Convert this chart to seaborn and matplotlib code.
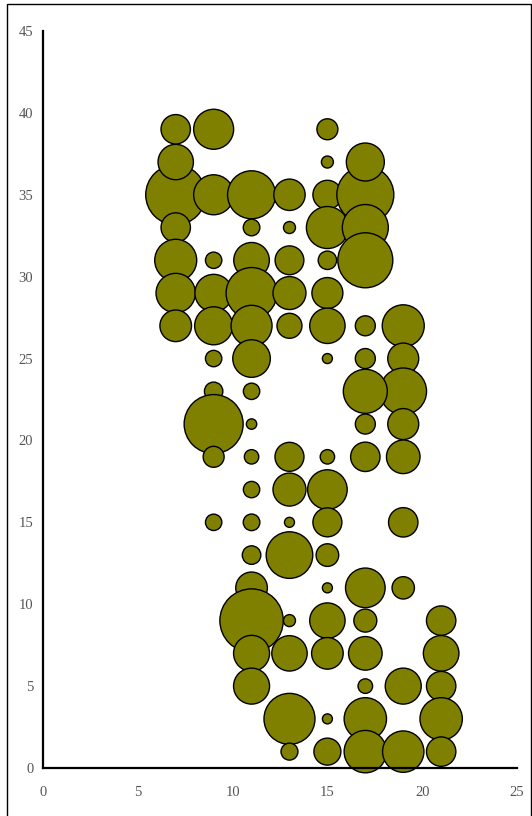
import numpy as np
import pandas as pd
import seaborn as sns
import matplotlib
matplotlib.use('Agg')
import matplotlib.pyplot as plt
from matplotlib.patches import Rectangle

# bubble data, listed row by row in drawing order
xs = [7, 9, 11, 13, 15, 17,
      7, 11, 13, 15, 17,
      7, 9, 11, 13, 15, 17,
      7, 9, 11, 13, 15,
      7, 9, 11, 13, 15, 17, 19,
      9, 11, 15, 17, 19,
      9, 11, 19, 17,
      9, 11, 17, 19,
      9, 11, 13, 15, 17, 19,
      11, 13, 15,
      9, 11, 13, 15, 19,
      11, 13, 15,
      11, 15, 17, 19,
      11, 13, 15, 17, 21,
      11, 13, 15, 17, 21,
      11, 17, 19, 21,
      13, 15, 17, 21,
      13, 15, 17, 19, 21,
      7, 15, 17,
      7, 9, 15]
ys = [35, 35, 35, 35, 35, 35,
      33, 33, 33, 33, 33,
      31, 31, 31, 31, 31, 31,
      29, 29, 29, 29, 29,
      27, 27, 27, 27, 27, 27, 27,
      25, 25, 25, 25, 25,
      23, 23, 23, 23,
      21, 21, 21, 21,
      19, 19, 19, 19, 19, 19,
      17, 17, 17,
      15, 15, 15, 15, 15,
      13, 13, 13,
      11, 11, 11, 11,
      9, 9, 9, 9, 9,
      7, 7, 7, 7, 7,
      5, 5, 5, 5,
      3, 3, 3, 3,
      1, 1, 1, 1, 1,
      37, 37, 37,
      39, 39, 39]
values = [900, 400, 576, 246, 210, 812,
          216, 69, 36, 441, 529,
          441, 67, 317, 207, 85, 756,
          388, 350, 650, 272, 240,
          250, 361, 420, 156, 313, 100, 441,
          67, 353, 25, 100, 240,
          85, 67, 543, 484,
          870, 27, 100, 240,
          110, 52, 210, 52, 216, 282,
          67, 272, 392,
          67, 69, 25, 210, 216,
          86, 543, 128,
          250, 25, 392, 125,
          1005, 36, 313, 132, 216,
          324, 313, 250, 282, 317,
          324, 53, 324, 216,
          650, 25, 449, 449,
          72, 182, 449, 428, 216,
          313, 36, 361,
          216, 400, 110]

x_ticks = [0, 5, 10, 15, 20, 25]
y_ticks = [0, 5, 10, 15, 20, 25, 30, 35, 40, 45]

df = pd.DataFrame({'x': xs, 'y': ys, 'value': values})

sns.set_style('white')
plt.rcParams['font.family'] = ['Liberation Serif', 'DejaVu Serif']

fig = plt.figure(figsize=(5.32, 8.16), dpi=100)
ax = fig.add_axes([43 / 532, 48 / 816, 474 / 532, 737 / 816])

k = (1.44) ** 2
vmin, vmax = min(values), max(values)
sns.scatterplot(data=df, x='x', y='y', size='value',
                sizes=(k * vmin, k * vmax), size_norm=(vmin, vmax),
                color='#808000', edgecolor='black', linewidth=1,
                alpha=1, legend=False, ax=ax, clip_on=False)

ax.set_xlim(0, 25)
ax.set_ylim(0, 45)
ax.set_xticks(x_ticks)
ax.set_yticks(y_ticks)
ax.set_xlabel('')
ax.set_ylabel('')
sns.despine(ax=ax)
for s in ['left', 'bottom']:
    ax.spines[s].set_linewidth(1.6)
    ax.spines[s].set_color('black')
ax.tick_params(axis='both', direction='in', length=4, width=1.6,
               color='black', labelsize=10.5, labelcolor='#555555')
ax.tick_params(axis='x', pad=13)
ax.tick_params(axis='y', pad=7)

fig.patches.append(Rectangle((7 / 532, -0.01), 524 / 532, 1 - 4 / 816 + 0.01,
                             transform=fig.transFigure, fill=False,
                             edgecolor='black', linewidth=1))

fig.savefig('out.png', dpi=100)
